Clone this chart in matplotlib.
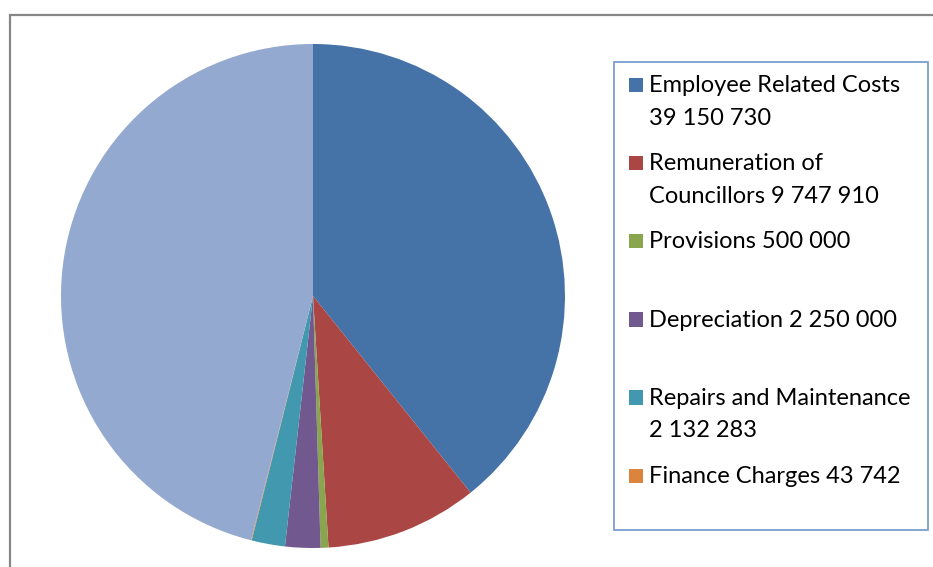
import textwrap
import matplotlib
matplotlib.use('Agg')
from matplotlib import pyplot as plt
from matplotlib.patches import Rectangle

# dados do gráfico
categories = ['Employee Related Costs', 'Remuneration of Councillors', 'Provisions',
              'Depreciation', 'Repairs and Maintenance', 'Finance Charges',
              'Other Expenditure']
values = [39150730, 9747910, 500000, 2250000, 2132283, 43742, 45930000]
colors = ['#4572A7', '#AA4643', '#89A54E', '#71588F', '#4198AF', '#DB843D', '#93A9CF']
n_legend = 6  # a legenda original mostra só as 6 primeiras entradas

W, H = 933, 567
fig = plt.figure(figsize=(W / 100, H / 100), dpi=100)
fig.patch.set_facecolor('white')


def px(x, y):
    # converte pixels (origem no topo) para coordenadas da figura
    return x / W, 1 - y / H


# moldura cinza (cortada à direita e embaixo)
x0, y0 = px(10, 15)
fig.patches.append(Rectangle((x0, -0.2), 1.5, y0 + 0.2, transform=fig.transFigure,
                             fill=False, edgecolor='#878787', linewidth=1.6))

# pizza
cx, cy, r = 313, 296, 252
ax = fig.add_axes([(cx - r) / W, (H - cy - r) / H, 2 * r / W, 2 * r / H])
ax.pie(values, colors=colors, startangle=90, counterclock=False,
       wedgeprops={'linewidth': 0})
ax.set_xlim(-1, 1)
ax.set_ylim(-1, 1)
ax.set_aspect('equal')
ax.axis('off')

# legenda desenhada à mão (marcador alinhado com a primeira linha)
lx0, ly0 = px(614, 530)
lx1, ly1 = px(928, 62)
fig.patches.append(Rectangle((lx0, ly0), lx1 - lx0, ly1 - ly0, transform=fig.transFigure,
                             facecolor='white', edgecolor='#7BA0CD', linewidth=1.3))

for i in range(n_legend):
    label = textwrap.fill(f"{categories[i]} {values[i]:,}".replace(',', ' '), width=23)
    yc = 85 + i * 78.2
    mx, my = px(628.5, yc + 7)
    fig.patches.append(Rectangle((mx, my), 14.5 / W, 14.5 / H, transform=fig.transFigure,
                                 facecolor=colors[i], edgecolor='none'))
    tx, ty = px(649, yc - 10)
    fig.text(tx, ty, label, family='Lato', fontsize=17, color='black',
             va='top', ha='left', linespacing=1.68)

fig.savefig('out.png', dpi=100)
